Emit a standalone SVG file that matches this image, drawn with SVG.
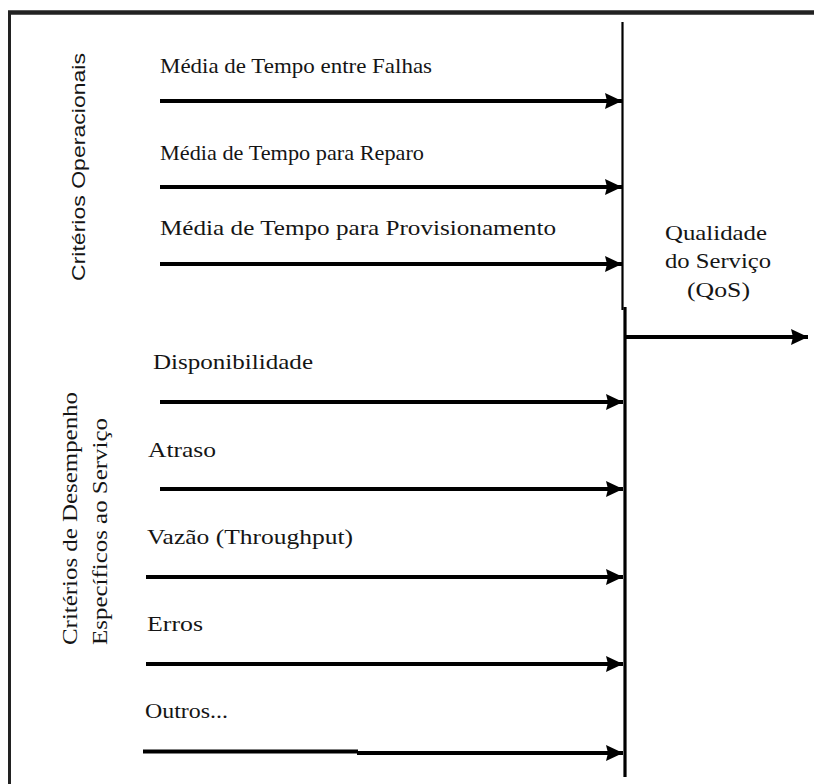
<svg xmlns="http://www.w3.org/2000/svg" width="814" height="784" viewBox="0 0 814 784">
  <style>
    .lbl { font-size: 21px; fill: #151515; }
    .sans { font-size: 19px; fill: #151515; }
    .edge { stroke: #000; stroke-width: 4; fill: none; }
    .bus { stroke: #000; fill: none; }
    .frame { stroke: #222; fill: none; }
  </style>
  <defs>
    <marker id="head" markerUnits="userSpaceOnUse" markerWidth="20" markerHeight="20" refX="17" refY="9" orient="auto">
      <path d="M0,1 L17,9 L0,17 L2,9 Z" fill="#000"/>
    </marker>
  </defs>

  <rect width="814" height="784" fill="#fff"/>

  <!-- frame -->
  <g id="frame">
    <line class="frame" x1="8" y1="12.5" x2="814" y2="12.5" stroke-width="4.5"/>
    <line class="frame" x1="9.5" y1="11" x2="9.5" y2="784" stroke-width="3"/>
  </g>

  <!-- group headings -->
  <g id="operacionais" font-family="Liberation Sans, Arial, sans-serif">
    <text class="sans" transform="translate(85,281) rotate(-90)" textLength="228" lengthAdjust="spacingAndGlyphs">Critérios Operacionais</text>
  </g>
  <g font-family="Liberation Serif, Times New Roman, serif">
    <g id="desempenho">
      <text class="lbl" transform="translate(77,645) rotate(-90)" textLength="253" lengthAdjust="spacingAndGlyphs">Critérios de Desempenho</text>
      <text class="lbl" transform="translate(107,645) rotate(-90)" textLength="227" lengthAdjust="spacingAndGlyphs">Específicos ao Serviço</text>
    </g>

    <!-- criteria labels -->
    <g id="mtbf"><text class="lbl" x="160" y="73" textLength="272" lengthAdjust="spacingAndGlyphs">Média de Tempo entre Falhas</text></g>
    <g id="mttr"><text class="lbl" x="160" y="160" textLength="264" lengthAdjust="spacingAndGlyphs">Média de Tempo para Reparo</text></g>
    <g id="mttp"><text class="lbl" x="160" y="235" textLength="396" lengthAdjust="spacingAndGlyphs">Média de Tempo para Provisionamento</text></g>
    <g id="disponibilidade"><text class="lbl" x="153" y="369" textLength="160" lengthAdjust="spacingAndGlyphs">Disponibilidade</text></g>
    <g id="atraso"><text class="lbl" x="148" y="457" textLength="68" lengthAdjust="spacingAndGlyphs">Atraso</text></g>
    <g id="vazao"><text class="lbl" x="147" y="544" textLength="206" lengthAdjust="spacingAndGlyphs">Vazão (Throughput)</text></g>
    <g id="erros"><text class="lbl" x="147" y="631" textLength="56" lengthAdjust="spacingAndGlyphs">Erros</text></g>
    <g id="outros"><text class="lbl" x="145" y="718" textLength="83" lengthAdjust="spacingAndGlyphs">Outros...</text></g>

    <!-- result -->
    <g id="qos">
      <text class="lbl" x="665" y="240" textLength="102" lengthAdjust="spacingAndGlyphs">Qualidade</text>
      <text class="lbl" x="665" y="268" textLength="106" lengthAdjust="spacingAndGlyphs">do Serviço</text>
      <text class="lbl" x="687" y="297" textLength="63" lengthAdjust="spacingAndGlyphs">(QoS)</text>
    </g>
  </g>

  <!-- connectors -->
  <g id="connectors">
    <line class="bus" x1="622.5" y1="22" x2="622.5" y2="310" stroke-width="2.2"/>
    <line class="bus" x1="625" y1="307" x2="625" y2="777" stroke-width="3.2"/>
    <line class="edge" x1="160" y1="101" x2="622" y2="101" marker-end="url(#head)"/>
    <line class="edge" x1="160" y1="187" x2="622" y2="187" marker-end="url(#head)"/>
    <line class="edge" x1="160" y1="264" x2="622" y2="264" marker-end="url(#head)"/>
    <line class="edge" x1="160" y1="402" x2="623" y2="402" marker-end="url(#head)"/>
    <line class="edge" x1="160" y1="489" x2="623" y2="489" marker-end="url(#head)"/>
    <line class="edge" x1="146" y1="577" x2="623" y2="577" marker-end="url(#head)"/>
    <line class="edge" x1="146" y1="664" x2="623" y2="664" marker-end="url(#head)"/>
    <line class="edge" x1="143" y1="751.5" x2="358" y2="751.5" stroke-width="2.2"/>
    <line class="edge" x1="357" y1="753" x2="623" y2="753" marker-end="url(#head)"/>
    <line class="edge" x1="626" y1="337" x2="808" y2="337" marker-end="url(#head)"/>
  </g>
</svg>
